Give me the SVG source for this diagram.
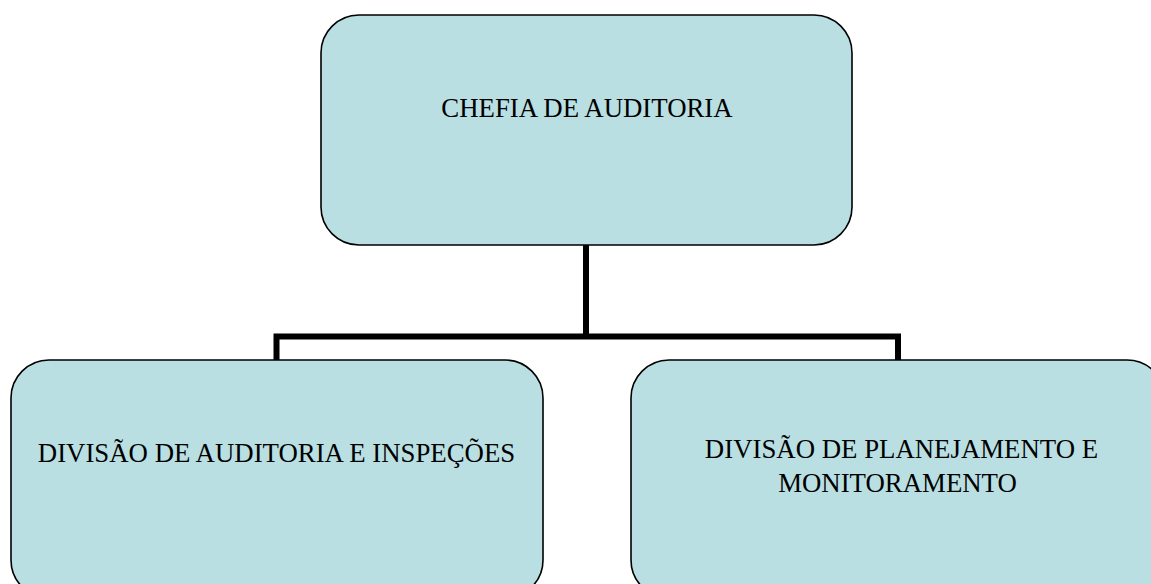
<svg xmlns="http://www.w3.org/2000/svg" width="1151" height="584" viewBox="0 0 1151 584">
<style>
.box{fill:#B9DFE3;stroke:#000;stroke-width:1.6}
.lbl{font-family:"Liberation Serif","Times New Roman",serif;font-size:26.8px;fill:#000;text-anchor:middle}
.conn{fill:none;stroke:#000;stroke-width:6;stroke-linejoin:miter}
</style>
<rect width="1151" height="584" fill="#fff"/>
<g id="connectors">
<path class="conn" d="M586,245 V336.5"/>
<path class="conn" d="M276.5,360 V336.5 H898 V360"/>
</g>
<g id="node-chefia">
<rect class="box" x="321" y="15" width="531" height="230" rx="38" ry="38"/>
<text class="lbl" x="587" y="117">CHEFIA DE AUDITORIA</text>
</g>
<g id="node-auditoria">
<rect class="box" x="11" y="360" width="532" height="238" rx="38" ry="38"/>
<text class="lbl" x="276.5" y="462">DIVISÃO DE AUDITORIA E INSPEÇÕES</text>
</g>
<g id="node-planejamento">
<rect class="box" x="631" y="360" width="534" height="238" rx="38" ry="38"/>
<text class="lbl" x="901.5" y="458">DIVISÃO DE PLANEJAMENTO E</text>
<text class="lbl" x="897.5" y="491.5">MONITORAMENTO</text>
</g>
</svg>
